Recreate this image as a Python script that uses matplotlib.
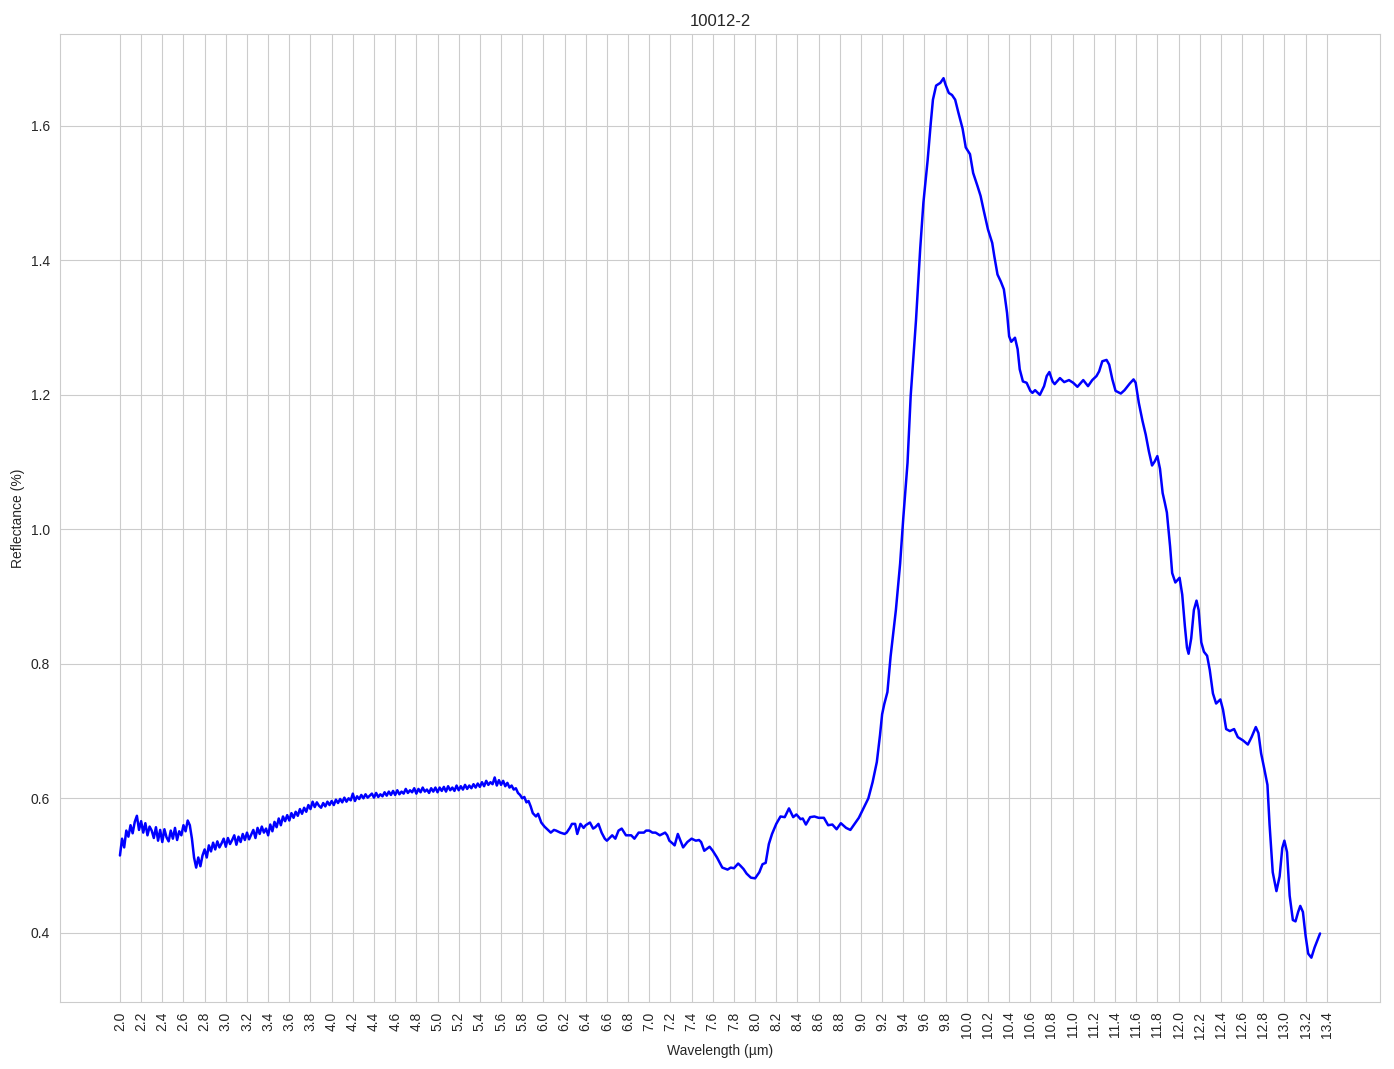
import numpy as np
import matplotlib
matplotlib.use("Agg")
import matplotlib.pyplot as plt
import seaborn as sns

sns.set_style("whitegrid")
plt.rcParams['font.family'] = ['Liberation Sans', 'DejaVu Sans']

TITLE = "10012-2"

# 噪声较大的短波段 (2.0 - 5.9 µm)
wl_noisy = [
    2.00, 2.02, 2.04, 2.06, 2.08, 2.10, 2.12, 2.14, 2.16, 2.18,
    2.20, 2.22, 2.24, 2.26, 2.28, 2.30, 2.32, 2.34, 2.36, 2.38,
    2.40, 2.42, 2.44, 2.46, 2.48, 2.50, 2.52, 2.54, 2.56, 2.58,
    2.60, 2.62, 2.64, 2.66, 2.68, 2.70, 2.72, 2.74, 2.76, 2.78,
    2.80, 2.82, 2.84, 2.86, 2.88, 2.90, 2.92, 2.94, 2.96, 2.98,
    3.00, 3.02, 3.04, 3.06, 3.08, 3.10, 3.12, 3.14, 3.16, 3.18,
    3.20, 3.22, 3.24, 3.26, 3.28, 3.30, 3.32, 3.34, 3.36, 3.38,
    3.40, 3.42, 3.44, 3.46, 3.48, 3.50, 3.52, 3.54, 3.56, 3.58,
    3.60, 3.62, 3.64, 3.66, 3.68, 3.70, 3.72, 3.74, 3.76, 3.78,
    3.80, 3.82, 3.84, 3.86, 3.88, 3.90, 3.92, 3.94, 3.96, 3.98,
    4.00, 4.02, 4.04, 4.06, 4.08, 4.10, 4.12, 4.14, 4.16, 4.18,
    4.20, 4.22, 4.24, 4.26, 4.28, 4.30, 4.32, 4.34, 4.36, 4.38,
    4.40, 4.42, 4.44, 4.46, 4.48, 4.50, 4.52, 4.54, 4.56, 4.58,
    4.60, 4.62, 4.64, 4.66, 4.68, 4.70, 4.72, 4.74, 4.76, 4.78,
    4.80, 4.82, 4.84, 4.86, 4.88, 4.90, 4.92, 4.94, 4.96, 4.98,
    5.00, 5.02, 5.04, 5.06, 5.08, 5.10, 5.12, 5.14, 5.16, 5.18,
    5.20, 5.22, 5.24, 5.26, 5.28, 5.30, 5.32, 5.34, 5.36, 5.38,
    5.40, 5.42, 5.44, 5.46, 5.48, 5.50, 5.52, 5.54, 5.56, 5.58,
    5.60, 5.62, 5.64, 5.66, 5.68, 5.70, 5.72, 5.74, 5.76, 5.78,
    5.80, 5.82, 5.84, 5.86, 5.88, 5.90,
]
refl_noisy = [
    0.515, 0.540, 0.527, 0.552, 0.543, 0.560, 0.548, 0.565, 0.574, 0.553,
    0.566, 0.549, 0.563, 0.545, 0.558, 0.552, 0.541, 0.557, 0.537, 0.553,
    0.535, 0.554, 0.542, 0.536, 0.552, 0.540, 0.556, 0.538, 0.551, 0.545,
    0.560, 0.551, 0.567, 0.560, 0.540, 0.512, 0.497, 0.512, 0.499, 0.515,
    0.524, 0.512, 0.530, 0.521, 0.534, 0.524, 0.536, 0.527, 0.533, 0.540,
    0.528, 0.541, 0.532, 0.538, 0.545, 0.531, 0.543, 0.535, 0.547, 0.538,
    0.549, 0.539, 0.546, 0.553, 0.541, 0.556, 0.547, 0.558, 0.549, 0.555,
    0.545, 0.561, 0.551, 0.565, 0.557, 0.570, 0.560, 0.573, 0.566, 0.575,
    0.567, 0.578, 0.571, 0.580, 0.574, 0.584, 0.577, 0.586, 0.580, 0.590,
    0.584, 0.595, 0.587, 0.594, 0.589, 0.586, 0.593, 0.588, 0.595, 0.590,
    0.596, 0.590, 0.598, 0.593, 0.599, 0.594, 0.601, 0.595, 0.600, 0.597,
    0.607, 0.596, 0.603, 0.599, 0.605, 0.600, 0.606, 0.601, 0.604, 0.607,
    0.601, 0.608, 0.602, 0.606, 0.603, 0.609, 0.604, 0.610, 0.605, 0.611,
    0.605, 0.612, 0.606, 0.610, 0.607, 0.614, 0.608, 0.612, 0.609, 0.615,
    0.607, 0.614, 0.609, 0.616, 0.610, 0.613, 0.608, 0.615, 0.610, 0.616,
    0.609, 0.616, 0.611, 0.617, 0.610, 0.618, 0.612, 0.616, 0.611, 0.619,
    0.612, 0.618, 0.613, 0.620, 0.614, 0.619, 0.615, 0.621, 0.616, 0.622,
    0.617, 0.624, 0.618, 0.626, 0.620, 0.624, 0.621, 0.631, 0.619, 0.627,
    0.620, 0.626, 0.618, 0.623, 0.616, 0.619, 0.613, 0.615, 0.608, 0.605,
    0.600, 0.602, 0.594, 0.596, 0.588, 0.578,
]

# 较平滑的长波段 (5.9 - 13.34 µm)
wl_smooth = [
    5.93, 5.95, 5.98, 6.01, 6.03, 6.07, 6.10, 6.12, 6.16, 6.20,
    6.22, 6.25, 6.27, 6.30, 6.32, 6.35, 6.38, 6.40, 6.44, 6.47,
    6.49, 6.52, 6.55, 6.58, 6.60, 6.65, 6.68, 6.71, 6.74, 6.78,
    6.80, 6.83, 6.86, 6.90, 6.95, 6.97, 7.00, 7.03, 7.06, 7.10,
    7.15, 7.17, 7.19, 7.22, 7.24, 7.27, 7.30, 7.32, 7.36, 7.40,
    7.44, 7.47, 7.49, 7.52, 7.57, 7.60, 7.64, 7.67, 7.69, 7.74,
    7.77, 7.80, 7.84, 7.86, 7.89, 7.92, 7.96, 8.00, 8.04, 8.07,
    8.10, 8.13, 8.16, 8.20, 8.24, 8.28, 8.32, 8.36, 8.39, 8.43,
    8.45, 8.48, 8.52, 8.56, 8.60, 8.65, 8.69, 8.73, 8.77, 8.81,
    8.86, 8.90, 8.94, 8.98, 9.02, 9.07, 9.11, 9.15, 9.18, 9.20,
    9.22, 9.25, 9.28, 9.33, 9.37, 9.40, 9.44, 9.47, 9.52, 9.56,
    9.59, 9.63, 9.66, 9.68, 9.71, 9.75, 9.78, 9.80, 9.83, 9.86,
    9.89, 9.92, 9.96, 9.99, 10.03, 10.06, 10.10, 10.13, 10.16, 10.20,
    10.24, 10.26, 10.29, 10.32, 10.35, 10.38, 10.40, 10.42, 10.455, 10.48,
    10.50, 10.53, 10.565, 10.60, 10.62, 10.645, 10.69, 10.73, 10.755, 10.78,
    10.81, 10.83, 10.88, 10.92, 10.965, 11.005, 11.045, 11.10, 11.145, 11.185,
    11.225, 11.25, 11.28, 11.32, 11.345, 11.375, 11.405, 11.455, 11.49, 11.54,
    11.575, 11.595, 11.625, 11.66, 11.69, 11.72, 11.75, 11.775, 11.80, 11.825,
    11.85, 11.87, 11.89, 11.92, 11.94, 11.97, 12.01, 12.035, 12.06, 12.08,
    12.095, 12.12, 12.145, 12.17, 12.19, 12.215, 12.24, 12.27, 12.295, 12.325,
    12.355, 12.395, 12.42, 12.45, 12.485, 12.525, 12.56, 12.61, 12.655, 12.69,
    12.73, 12.755, 12.78, 12.81, 12.84, 12.86, 12.89, 12.925, 12.955, 12.98,
    13.00, 13.025, 13.05, 13.08, 13.105, 13.13, 13.15, 13.175, 13.20, 13.225,
    13.255, 13.285, 13.337,
]
refl_smooth = [
    0.573, 0.577, 0.564, 0.558, 0.555, 0.549, 0.553, 0.552, 0.549, 0.547,
    0.549, 0.556, 0.562, 0.562, 0.547, 0.562, 0.556, 0.560, 0.564, 0.555,
    0.557, 0.562, 0.549, 0.540, 0.537, 0.545, 0.540, 0.552, 0.555, 0.545,
    0.545, 0.545, 0.540, 0.549, 0.549, 0.552, 0.552, 0.549, 0.549, 0.545,
    0.549, 0.545, 0.537, 0.533, 0.530, 0.547, 0.535, 0.527, 0.535, 0.540,
    0.537, 0.538, 0.535, 0.522, 0.528, 0.522, 0.512, 0.503, 0.497, 0.494,
    0.497, 0.496, 0.503, 0.500, 0.495, 0.488, 0.482, 0.481, 0.490, 0.502,
    0.504, 0.532, 0.547, 0.562, 0.573, 0.572, 0.585, 0.572, 0.576, 0.569,
    0.570, 0.561, 0.572, 0.573, 0.571, 0.571, 0.560, 0.561, 0.554, 0.563,
    0.556, 0.553, 0.562, 0.571, 0.584, 0.600, 0.624, 0.654, 0.694, 0.725,
    0.740, 0.758, 0.811, 0.880, 0.949, 1.017, 1.099, 1.199, 1.311, 1.418,
    1.486, 1.549, 1.605, 1.639, 1.660, 1.664, 1.671, 1.661, 1.649, 1.646,
    1.639, 1.620, 1.596, 1.568, 1.558, 1.530, 1.511, 1.496, 1.474, 1.446,
    1.426, 1.406, 1.379, 1.369, 1.357, 1.322, 1.287, 1.279, 1.285, 1.268,
    1.238, 1.220, 1.218, 1.206, 1.203, 1.207, 1.200, 1.213, 1.228, 1.234,
    1.220, 1.216, 1.225, 1.219, 1.222, 1.218, 1.212, 1.222, 1.213, 1.222,
    1.228, 1.235, 1.250, 1.252, 1.245, 1.223, 1.206, 1.202, 1.207, 1.217,
    1.223, 1.218, 1.188, 1.161, 1.141, 1.116, 1.095, 1.101, 1.109, 1.090,
    1.054, 1.040, 1.025, 0.975, 0.935, 0.921, 0.928, 0.903, 0.856, 0.824,
    0.815, 0.838, 0.880, 0.894, 0.880, 0.832, 0.818, 0.812, 0.791, 0.756,
    0.741, 0.747, 0.732, 0.703, 0.700, 0.703, 0.691, 0.686, 0.680, 0.691,
    0.706, 0.697, 0.667, 0.644, 0.620, 0.561, 0.490, 0.462, 0.484, 0.526,
    0.537, 0.520, 0.455, 0.419, 0.417, 0.431, 0.440, 0.431, 0.396, 0.369,
    0.363, 0.378, 0.399,
]

wavelength = np.array(wl_noisy + wl_smooth)
reflectance = np.array(refl_noisy + refl_smooth)

fig, ax = plt.subplots(figsize=(13.94, 10.69), dpi=100)
fig.subplots_adjust(left=0.043, right=0.99, top=0.968, bottom=0.063)

ax.plot(wavelength, reflectance, color='blue', linewidth=1.8)

xticks = np.arange(2.0, 13.41, 0.2)
ax.set_xticks(xticks)
ax.set_xticklabels([f"{t:.1f}" for t in xticks], rotation=90)

ax.set_title(TITLE, fontsize=12)
ax.set_xlabel("Wavelength (µm)")
ax.set_ylabel("Reflectance (%)")

fig.savefig("out.png", dpi=100)
